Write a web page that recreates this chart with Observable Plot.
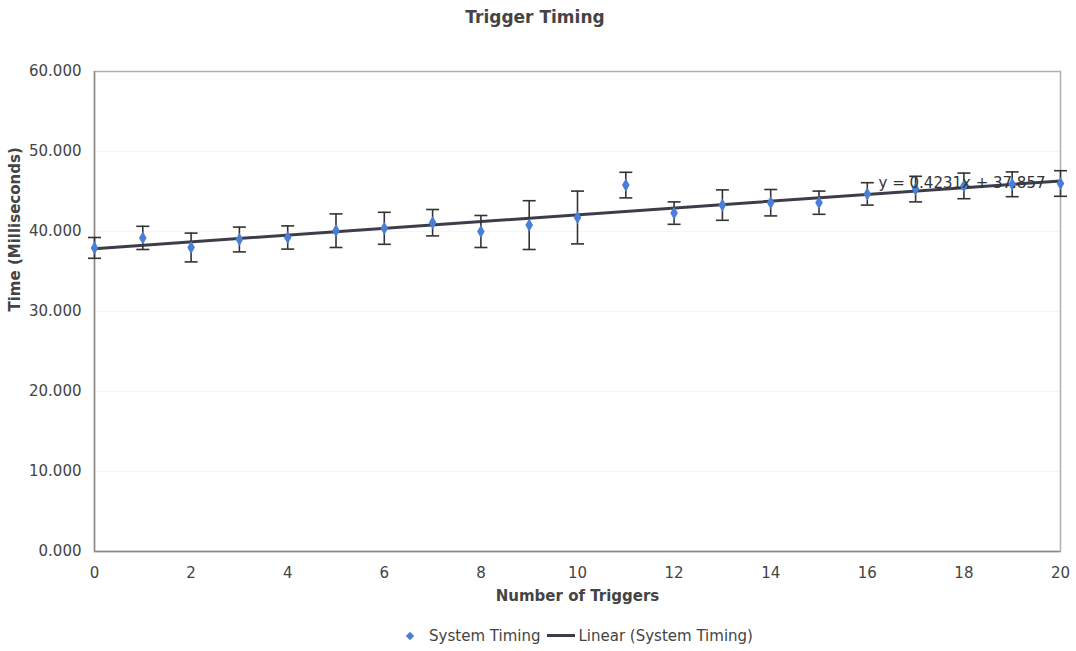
<!DOCTYPE html>
<html>
<head>
<meta charset="utf-8">
<script src="https://cdn.jsdelivr.net/npm/d3@7"></script>
<script src="https://cdn.jsdelivr.net/npm/@observablehq/plot@0.6"></script>
<style>
  html, body { margin: 0; padding: 0; background: #fff; }
  body { width: 1076px; height: 651px; overflow: hidden; font-family: "DejaVu Sans", Verdana, sans-serif; color: #333; }
  #title { height: 40px; line-height: 34px; text-align: center; font-size: 17px; font-weight: bold; color: #444; padding-right: 6px; }
  #chart svg { display: block; }
  #legend { height: 31px; display: flex; align-items: center; justify-content: center; padding-left: 84px; font-size: 15px; color: #444; }
  .diamond { width: 6px; height: 6px; background: #4a7fd8; transform: rotate(45deg); margin-right: 16px; }
  .lline { width: 28px; height: 3px; background: #3d3d4a; margin: 0 3px 0 7px; }
</style>
</head>
<body>
<div id="title">Trigger Timing</div>
<div id="chart"></div>
<div id="legend">
  <div class="diamond"></div><span>System Timing</span><div class="lline"></div><span>Linear (System Timing)</span>
</div>
<script>
const triggers = [0,1,2,3,4,5,6,7,8,9,10,11,12,13,14,15,16,17,18,19,20];
const timing   = [37.95,39.2,38.0,39.0,39.25,40.1,40.4,41.1,40.0,40.8,41.75,45.8,42.3,43.3,43.6,43.6,44.7,45.3,45.7,45.9,46.0];
const errors   = [1.3,1.45,1.8,1.55,1.45,2.1,2.0,1.65,2.0,3.05,3.3,1.6,1.4,1.9,1.65,1.45,1.4,1.6,1.6,1.55,1.6];
const trendCoef = [0.4231, 37.857]; // slope, intercept
const trendLabel = "y = 0.4231x + 37.857";
const yTicks = [0,10,20,30,40,50,60];
const xTicks = [0,2,4,6,8,10,12,14,16,18,20];
const xTitle = "Number of Triggers";
const yTitle = "Time (Milliseconds)";

const data = triggers.map((x, i) => ({x, y: timing[i], lo: timing[i] - errors[i], hi: timing[i] + errors[i]}));
const xDomain = [triggers[0], triggers[triggers.length - 1]];
const trend = xDomain.map(x => ({x, y: trendCoef[0] * x + trendCoef[1]}));

const cap = { draw(ctx) { ctx.moveTo(-6.5, 0); ctx.lineTo(6.5, 0); } };

const chart = Plot.plot({
  width: 1076,
  height: 580,
  marginTop: 31,
  marginBottom: 69,
  marginLeft: 94,
  marginRight: 16,
  style: { fontFamily: "DejaVu Sans, Verdana, sans-serif", fontSize: "15px", color: "#444", background: "transparent" },
  x: { domain: xDomain },
  y: { domain: [0, 60] },
  marks: [
    Plot.gridY(yTicks, { stroke: "#000", strokeOpacity: 0.04 }),
    Plot.frame({ stroke: "#b0b0b0", strokeWidth: 1.5 }),
    Plot.ruleX([xDomain[0]], { stroke: "#8a8a8a", strokeWidth: 1.5 }),
    Plot.ruleY([0], { stroke: "#8a8a8a", strokeWidth: 1.5 }),
    Plot.axisY(yTicks, { tickSize: 0, tickPadding: 13, tickFormat: d3.format(".3f"), label: null, fill: "#444" }),
    Plot.axisX(xTicks, { tickSize: 0, tickPadding: 16, label: null, fill: "#444" }),
    Plot.text([xTitle], { frameAnchor: "bottom", dy: 49, fontWeight: "bold", fill: "#444", fontSize: 15 }),
    Plot.text([yTitle], { frameAnchor: "left", dx: -79, rotate: -90, fontWeight: "bold", fill: "#444", fontSize: 15 }),
    Plot.line(trend, { x: "x", y: "y", stroke: "#3d3d4a", strokeWidth: 3 }),
    Plot.ruleX(data, { x: "x", y1: "lo", y2: "hi", stroke: "#333", strokeWidth: 1.6 }),
    Plot.dot(data, { x: "x", y: "lo", symbol: cap, stroke: "#333", strokeWidth: 1.6, r: 5 }),
    Plot.dot(data, { x: "x", y: "hi", symbol: cap, stroke: "#333", strokeWidth: 1.6, r: 5 }),
    Plot.dot(data, { x: "x", y: "y", symbol: "diamond", fill: "#4a7fd8", stroke: "none", r: 4 }),
    Plot.text([trendLabel], { x: () => trend[1].x, y: () => trend[1].y, textAnchor: "end", dx: -15, dy: 2, fill: "#333", fontSize: 15 })
  ]
});
document.getElementById("chart").appendChild(chart);
</script>
</body>
</html>
